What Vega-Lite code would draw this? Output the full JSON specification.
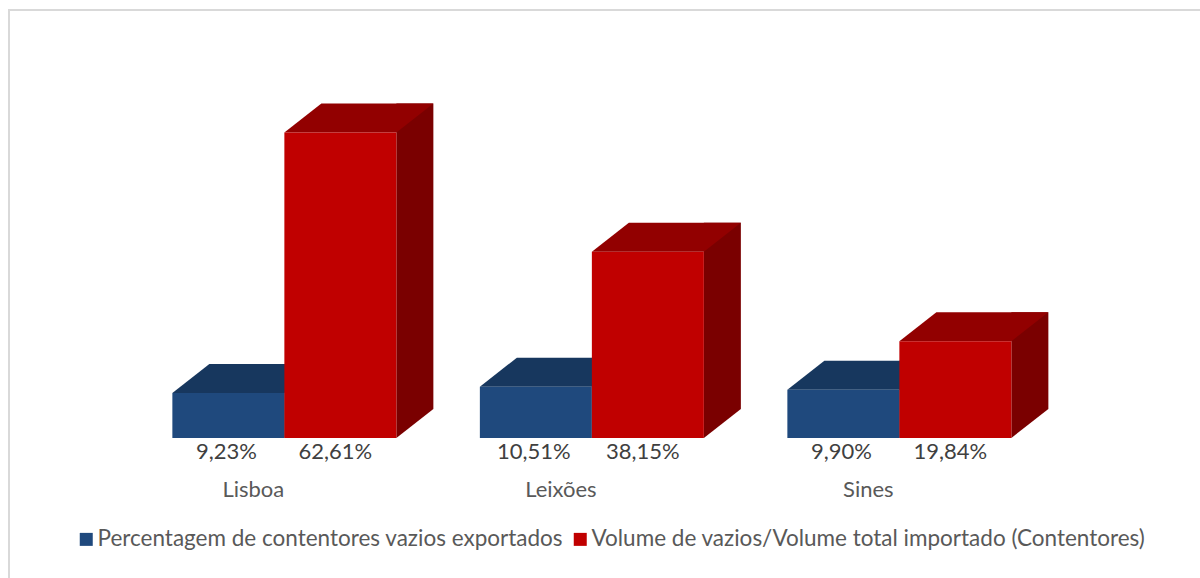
{
  "$schema": "https://vega.github.io/schema/vega-lite/v6.json",
  "width": 1230,
  "height": 580,
  "autosize": "none",
  "padding": {"left": 9, "top": 10, "right": -39, "bottom": -12},
  "background": "#ffffff",
  "config": {
    "view": {"stroke": "#d9d9d9", "strokeWidth": 2},
    "locale": {"number": {"decimal": ",", "thousands": ".", "grouping": [3], "currency": ["", " €"]}},
    "font": "Lato"
  },
  "data": {
    "values": [
      {"porto": "Lisboa", "exportados": 0.0923, "importado": 0.6261},
      {"porto": "Leixões", "exportados": 0.1051, "importado": 0.3815},
      {"porto": "Sines", "exportados": 0.0990, "importado": 0.1984}
    ]
  },
  "encoding": {
    "x": {"field": "porto", "type": "nominal", "sort": null, "axis": null,
          "scale": {"type": "band", "paddingInner": 0, "paddingOuter": 0.5, "align": 0.3955, "range": [0, 1230]}}
  },
  "layer": [
    {
      "mark": {"type": "bar", "width": 37, "xOffset": 18.5, "yOffset": -29, "y2Offset": -29, "fill": "#163152"},
      "encoding": {
        "y": {"field": "exportados", "type": "quantitative", "axis": null,
              "scale": {"domain": [-0.3115, 0.877], "nice": false, "zero": false}},
        "y2": {"datum": 0}
      }
    },
    {
      "mark": {"type": "point", "shape": "M56,-29 L93,-29 L56,0 Z", "size": 4, "filled": true, "opacity": 1, "strokeWidth": 0, "xOffset": -56, "fill": "#163152"},
      "encoding": {"y": {"datum": 0}}
    },
    {
      "mark": {"type": "point", "shape": "M-56,0 L56,0 L93,-29 L-19,-29 Z", "size": 4, "filled": true, "opacity": 1, "strokeWidth": 0, "xOffset": -56, "fill": "#17375E"},
      "encoding": {"y": {"field": "exportados", "type": "quantitative"}}
    },
    {
      "mark": {"type": "bar", "width": 112, "xOffset": -56},
      "encoding": {
        "y": {"field": "exportados", "type": "quantitative"},
        "y2": {"datum": 0},
        "color": {
          "datum": "Percentagem de contentores vazios exportados",
          "scale": {
            "domain": ["Percentagem de contentores vazios exportados", "Volume de vazios/Volume total importado (Contentores)"],
            "range": ["#1F497D", "#C00000"]
          },
          "legend": {
            "orient": "none", "direction": "horizontal", "legendX": 66, "legendY": 518,
            "title": null, "symbolType": "square", "symbolSize": 169, "symbolStrokeWidth": 0,
            "labelFontSize": 22.5, "labelColor": "#595959", "labelFont": "Lato", "labelOffset": 0,
            "columnPadding": 5, "labelLimit": 0
          }
        }
      }
    },
    {
      "mark": {"type": "bar", "width": 37, "xOffset": 130.5, "yOffset": -29, "y2Offset": -29, "fill": "#7A0000"},
      "encoding": {
        "y": {"field": "importado", "type": "quantitative"},
        "y2": {"datum": 0}
      }
    },
    {
      "mark": {"type": "point", "shape": "M56,-29 L93,-29 L56,0 Z", "size": 4, "filled": true, "opacity": 1, "strokeWidth": 0, "xOffset": 56, "fill": "#7A0000"},
      "encoding": {"y": {"datum": 0}}
    },
    {
      "mark": {"type": "point", "shape": "M-56,0 L56,0 L93,-29 L-19,-29 Z", "size": 4, "filled": true, "opacity": 1, "strokeWidth": 0, "xOffset": 56, "fill": "#920000"},
      "encoding": {"y": {"field": "importado", "type": "quantitative"}}
    },
    {
      "mark": {"type": "bar", "width": 112, "xOffset": 56},
      "encoding": {
        "y": {"field": "importado", "type": "quantitative"},
        "y2": {"datum": 0},
        "color": {"datum": "Volume de vazios/Volume total importado (Contentores)"}
      }
    },
    {
      "mark": {"type": "text", "xOffset": -58, "dy": 21, "baseline": "alphabetic", "fontSize": 22, "fill": "#404040", "font": "Lato"},
      "encoding": {
        "y": {"datum": 0},
        "text": {"field": "exportados", "type": "quantitative", "format": ".2%"}
      }
    },
    {
      "mark": {"type": "text", "xOffset": 51, "dy": 21, "baseline": "alphabetic", "fontSize": 22, "fill": "#404040", "font": "Lato"},
      "encoding": {
        "y": {"datum": 0},
        "text": {"field": "importado", "type": "quantitative", "format": ".2%"}
      }
    },
    {
      "mark": {"type": "text", "xOffset": -31, "dy": 59, "baseline": "alphabetic", "fontSize": 22, "fill": "#595959", "font": "Lato"},
      "encoding": {
        "y": {"datum": 0},
        "text": {"field": "porto", "type": "nominal"}
      }
    }
  ]
}
